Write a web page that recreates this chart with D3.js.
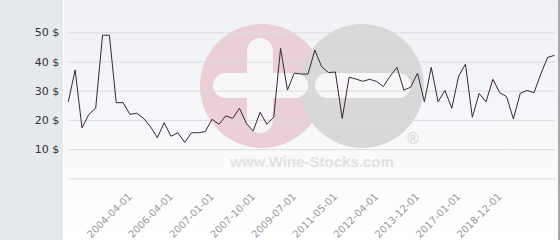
<!DOCTYPE html>
<html>
<head>
<meta charset="utf-8">
<script src="https://cdn.jsdelivr.net/npm/d3@7"></script>
<style>
  body { margin: 0; background: #fff; }
  svg { display: block; font-family: 'DejaVu Sans', sans-serif; }
</style>
</head>
<body>
<div class="chart"></div>
<script>
// one price per point (USD)
const prices = [
  26.2, 37.1, 17.3, 21.9, 24.0, 49.0, 49.0, 25.9, 25.9, 21.9,
  22.3, 20.5, 17.7, 13.9, 19.0, 14.4, 15.6, 12.3, 15.6, 15.6,
  16.0, 20.2, 18.5, 21.4, 20.5, 24.0, 18.8, 16.2, 22.6, 18.5,
  20.9, 44.5, 30.2, 36.0, 35.7, 35.7, 43.9, 38.2, 36.2, 36.4,
  20.5, 34.6, 34.0, 33.2, 33.9, 33.2, 31.4, 35.0, 38.0, 30.2,
  31.2, 36.0, 26.2, 38.0, 26.2, 30.1, 24.0, 35.0, 39.1, 20.9,
  29.1, 26.2, 33.9, 29.3, 28.0, 20.3, 29.1, 30.1, 29.3, 35.7,
  41.4, 42.1
];
// labelled categories on the x axis (point index -> date)
const tickIndex = [9, 15, 21, 27, 33, 39, 45, 51, 57, 63];
const tickLabels = ['2004-04-01', '2006-04-01', '2007-01-01', '2007-10-01', '2009-07-01',
  '2011-05-01', '2012-04-01', '2013-12-01', '2017-01-01', '2018-12-01'];
const yTicks = [0, 10, 20, 30, 40, 50];

const width = 560, height = 240;
const plot = { left: 68.3, right: 554.5, top: 32.3, bottom: 178.3 };

const svg = d3.select('.chart').append('svg')
  .attr('width', width)
  .attr('height', height);

const defs = svg.append('defs');
const grad = defs.append('linearGradient')
  .attr('id', 'bg')
  .attr('x1', 0).attr('y1', 0).attr('x2', 0).attr('y2', 1);
grad.append('stop').attr('offset', '0%').attr('stop-color', '#eef0f4');
grad.append('stop').attr('offset', '75%').attr('stop-color', '#fbfbfd');
grad.append('stop').attr('offset', '100%').attr('stop-color', '#ffffff');

// side panel + plot background
svg.append('rect').attr('x', 0).attr('y', 0).attr('width', 63).attr('height', height).attr('fill', '#e5e9ec');
svg.append('rect').attr('x', 63).attr('y', 0).attr('width', 495).attr('height', height).attr('fill', 'url(#bg)');
svg.append('line').attr('x1', 63.5).attr('x2', 63.5).attr('y1', 0).attr('y2', height).attr('stroke', '#fff');
svg.append('rect').attr('x', 558).attr('y', 0).attr('width', 2).attr('height', height).attr('fill', '#a8a8a8');

// watermark
const wm = svg.append('g');
wm.append('circle').attr('cx', 262).attr('cy', 86).attr('r', 62).attr('fill', '#ebcfd6');
wm.append('circle').attr('cx', 362).attr('cy', 86).attr('r', 62).attr('fill', '#d8d8d8');
wm.append('rect').attr('x', 247).attr('y', 38).attr('width', 26).attr('height', 95).attr('rx', 13).attr('fill', '#f7f7f9');
wm.append('rect').attr('x', 213).attr('y', 73).attr('width', 95).attr('height', 25).attr('rx', 12.5).attr('fill', '#f7f7f9');
wm.append('rect').attr('x', 315).attr('y', 73).attr('width', 96).attr('height', 25).attr('rx', 12.5).attr('fill', '#f7f7f9');
wm.append('text').attr('x', 413).attr('y', 144).attr('text-anchor', 'middle')
  .attr('font-size', 15).attr('fill', '#d6d6d6').text('®');
wm.append('text').attr('x', 312).attr('y', 167).attr('text-anchor', 'middle')
  .attr('font-family', "'Liberation Sans', Arial, sans-serif")
  .attr('font-weight', 'bold').attr('font-size', 15).attr('fill', '#e2e2e2')
  .text('www.Wine-Stocks.com');

const x = d3.scalePoint()
  .domain(d3.range(prices.length))
  .range([plot.left, plot.right]);

const y = d3.scaleLinear()
  .domain([0, 50])
  .range([plot.bottom, plot.top]);

// grid
svg.append('g')
  .attr('transform', `translate(${plot.left}, 0)`)
  .call(d3.axisLeft(y).tickValues(yTicks).tickSize(-(555 - plot.left)).tickFormat(''))
  .call(g => g.select('.domain').remove())
  .call(g => g.selectAll('line').attr('stroke', '#dcdcdc'));

// y labels
svg.append('g')
  .attr('transform', `translate(${plot.left}, 0)`)
  .call(d3.axisLeft(y).tickValues(yTicks.slice(1)).tickSize(0).tickPadding(9).tickFormat(d => `${d} $`))
  .call(g => g.select('.domain').remove())
  .call(g => g.selectAll('text').attr('fill', '#333').attr('font-size', 11)
    .attr('font-family', "'DejaVu Sans', sans-serif"));

// x labels
svg.append('g')
  .attr('transform', `translate(0, ${plot.bottom})`)
  .call(d3.axisBottom(x).tickValues(tickIndex).tickSize(0)
    .tickFormat(d => tickLabels[tickIndex.indexOf(d)]))
  .call(g => g.select('.domain').remove())
  .call(g => g.selectAll('text')
    .attr('y', 0).attr('dy', null)
    .attr('transform', 'translate(2, 19) rotate(-45)')
    .attr('text-anchor', 'end')
    .attr('fill', '#999')
    .attr('font-size', 10)
    .attr('font-family', "'DejaVu Sans', sans-serif"));

// price line
const line = d3.line()
  .x((d, i) => x(i))
  .y(d => y(d));

svg.append('path')
  .datum(prices)
  .attr('fill', 'none')
  .attr('stroke', '#3b2532')
  .attr('stroke-width', 1)
  .attr('d', line);
</script>
</body>
</html>
